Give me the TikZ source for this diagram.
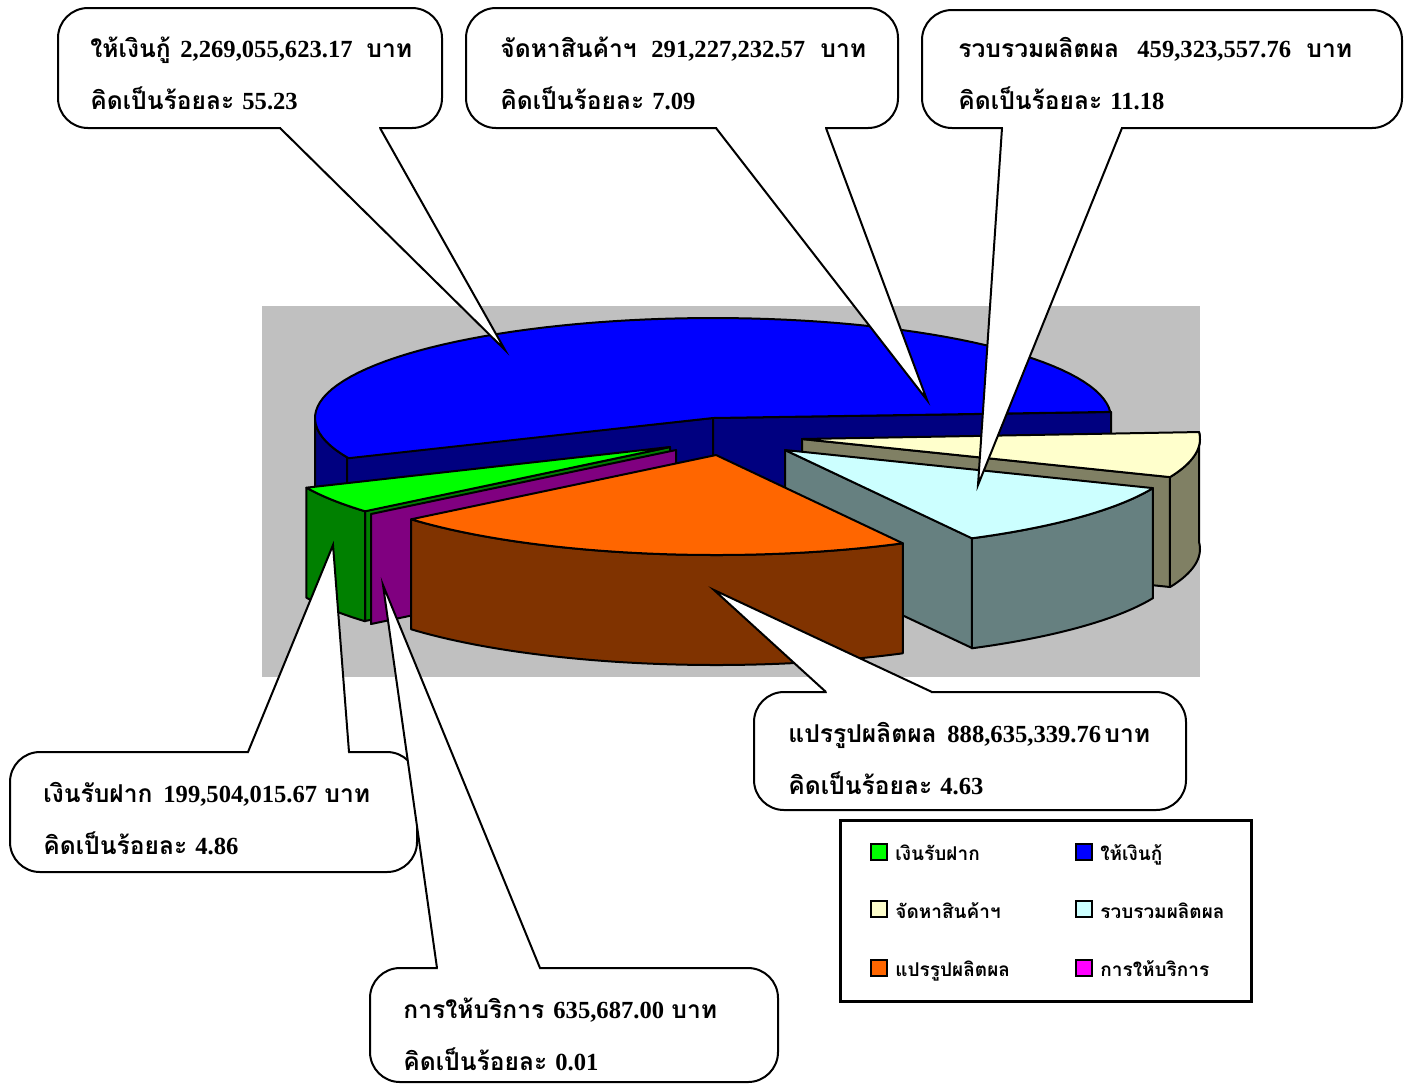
\documentclass[tikz,border=0pt]{standalone}
\usepackage{fontspec}
\setmainfont{Liberation Serif}
\newfontfamily\thai[Script=Thai]{Loma}
\definecolor{navyc}{HTML}{000080}
\definecolor{bluec}{HTML}{0000FF}
\definecolor{yellowc}{HTML}{FFFFCC}
\definecolor{olivec}{RGB}{128,128,100}
\definecolor{cyanc}{HTML}{CCFFFF}
\definecolor{tealc}{RGB}{102,128,128}
\definecolor{greenc}{HTML}{00FF00}
\definecolor{dgreenc}{HTML}{008000}
\definecolor{purplec}{HTML}{800080}
\definecolor{orangec}{HTML}{FF6600}
\definecolor{brownc}{HTML}{803300}
\definecolor{magentac}{HTML}{FF00FF}
\definecolor{plotgray}{HTML}{C0C0C0}
\begin{document}
\begin{tikzpicture}[x=0.5pt,y=-0.5pt,
  pe/.style={draw=black,line width=1pt,line join=round},
  cbox/.style={draw=black,fill=white,line width=1pt,rounded corners=15pt,inner sep=0pt},
  tailc/.style={draw=black,fill=white,line width=1pt,line join=miter},
  lbl/.style={font=\bfseries\fontsize{12.3}{14}\selectfont,inner sep=0pt,anchor=base west},
  leg/.style={font=\bfseries\fontsize{9.5}{11}\selectfont,inner sep=0pt,anchor=base west},
  sq/.style={draw=black,line width=1pt,minimum size=8pt,inner sep=0pt}]
\useasboundingbox (0,0) rectangle (1407,1084);
\fill[white] (0,0) rectangle (1407,1084);
% plot area
\fill[plotgray] (262,306) rectangle (1200,677);
% ---- blue slice (ให้เงินกู้)
\filldraw[pe,fill=navyc] (347,457) -- plot[domain=156.3:180,samples=15] ({713+398*cos(\x)},{418+100*sin(\x)}) -- plot[domain=180:156.3,samples=15] ({713+398*cos(\x)},{528+100*sin(\x)}) -- cycle;
\filldraw[pe,fill=navyc] (347,457) -- (713,418) -- (713,528) -- (347,567) -- cycle;
\filldraw[pe,fill=navyc] (713,418) -- (1111,412) -- (1111,522) -- (713,528) -- cycle;
\filldraw[pe,fill=bluec] (713,418) -- plot[domain=156.3:356.5,samples=80] ({713+398*cos(\x)},{418+100*sin(\x)}) -- cycle;
% ---- yellow slice (จัดหาสินค้าฯ)
\filldraw[pe,fill=olivec] (802,439) -- (1170,477) -- (1170,587) -- (802,549) -- cycle;
\filldraw[pe,fill=olivec] plot[domain=-4:22.4,samples=20] ({802+398*cos(\x)},{439+100*sin(\x)}) -- plot[domain=22.4:-4,samples=20] ({802+398*cos(\x)},{549+100*sin(\x)}) -- cycle;
\filldraw[pe,fill=yellowc] (802,439) -- plot[domain=-4:22.4,samples=20] ({802+398*cos(\x)},{439+100*sin(\x)}) -- cycle;
% ---- cyan slice (รวบรวมผลิตผล)
\filldraw[pe,fill=tealc] (785,450) -- (972,538) -- (972,648) -- (785,560) -- cycle;
\filldraw[pe,fill=tealc] plot[domain=22.4:62,samples=25] ({785+398*cos(\x)},{450+100*sin(\x)}) -- plot[domain=62:22.4,samples=25] ({785+398*cos(\x)},{560+100*sin(\x)}) -- cycle;
\filldraw[pe,fill=cyanc] (785,450) -- plot[domain=22.4:62,samples=25] ({785+398*cos(\x)},{450+100*sin(\x)}) -- cycle;
% ---- green slice (เงินรับฝาก)
\filldraw[pe,fill=dgreenc] (670,447) -- (365,511) -- (365,621) -- (670,557) -- cycle;
\filldraw[pe,fill=dgreenc] plot[domain=140:156,samples=12] ({670+398*cos(\x)},{447+100*sin(\x)}) -- plot[domain=156:140,samples=12] ({670+398*cos(\x)},{557+100*sin(\x)}) -- cycle;
\filldraw[pe,fill=greenc] (670,447) -- plot[domain=140:156,samples=12] ({670+398*cos(\x)},{447+100*sin(\x)}) -- cycle;
% ---- magenta slice side (การให้บริการ)
\filldraw[pe,fill=purplec] (676,450) -- (371,514) -- (371,624) -- (676,560) -- cycle;
% ---- orange slice (แปรรูปผลิตผล)
\filldraw[pe,fill=brownc] plot[domain=62:140,samples=50] ({716+398*cos(\x)},{455+100*sin(\x)}) -- plot[domain=140:62,samples=50] ({716+398*cos(\x)},{565+100*sin(\x)}) -- cycle;
\filldraw[pe,fill=orangec] (716,455) -- plot[domain=62:140,samples=50] ({716+398*cos(\x)},{455+100*sin(\x)}) -- cycle;

% ---- callout 1
\node[cbox,minimum width=192pt,minimum height=60pt] (b1) at (250,68) {};
\coordinate (p1) at (505,350); \coordinate (l1) at (280,128); \coordinate (r1) at (380,128);
\fill[white] (281,125) rectangle (379,131);
\path[tailc] (l1) -- (p1) -- (r1);
% ---- callout 2
\node[cbox,minimum width=216pt,minimum height=60pt] (b2) at (682,68) {};
\coordinate (p2) at (927,400); \coordinate (l2) at (716,128); \coordinate (r2) at (826,128);
\fill[white] (717,125) rectangle (825,131);
\path[tailc] (l2) -- (p2) -- (r2);
% ---- callout 3
\node[cbox,minimum width=240pt,minimum height=59pt] (b3) at (1162,69) {};
\coordinate (p3) at (978,485); \coordinate (l3) at (1002,128); \coordinate (r3) at (1122,128);
\fill[white] (1003,125) rectangle (1121,131);
\path[tailc] (l3) -- (p3) -- (r3);
% ---- callout 4
\node[cbox,minimum width=203.5pt,minimum height=60pt] (b4) at (213.5,812) {};
\coordinate (p4) at (333,545); \coordinate (l4) at (248,752); \coordinate (r4) at (349,752);
\fill[white] (249,749) rectangle (348,755);
\path[tailc] (l4) -- (p4) -- (r4);
% ---- callout 6
\node[cbox,minimum width=216pt,minimum height=59pt] (b6) at (970,751) {};
\coordinate (p6) at (714,590); \coordinate (l6) at (826,692); \coordinate (r6) at (932,692);
\fill[white] (827,689) rectangle (931,695);
\path[tailc] (l6) -- (p6) -- (r6);
% ---- callout 5
\node[cbox,minimum width=204pt,minimum height=57pt] (b5) at (574,1025) {};
\coordinate (p5) at (383,585); \coordinate (l5) at (437,968); \coordinate (r5) at (540,968);
\fill[white] (438,965) rectangle (539,971);
\path[tailc] (l5) -- (p5) -- (r5);

% ---- texts
\node[lbl] (t1a) at (90,57) {\thai ให้เงินกู้};
\node[lbl] (t1b) at (180,57) {2,269,055,623.17};
\node[lbl] (t1c) at (366,57) {\thai บาท};
\node[lbl] (t1d) at (90,109) {\thai คิดเป็นร้อยละ};
\node[lbl] (t1e) at (242,109) {55.23};

\node[lbl] (t2a) at (500,57) {\thai จัดหาสินค้าฯ};
\node[lbl] (t2b) at (651,57) {291,227,232.57};
\node[lbl] (t2c) at (820,57) {\thai บาท};
\node[lbl] (t2d) at (500,109) {\thai คิดเป็นร้อยละ};
\node[lbl] (t2e) at (652,109) {7.09};

\node[lbl] (t3a) at (958,57) {\thai รวบรวมผลิตผล};
\node[lbl] (t3b) at (1137,57) {459,323,557.76};
\node[lbl] (t3c) at (1306,57) {\thai บาท};
\node[lbl] (t3d) at (958,109) {\thai คิดเป็นร้อยละ};
\node[lbl] (t3e) at (1110,109) {11.18};

\node[lbl] (t4a) at (43,802) {\thai เงินรับฝาก};
\node[lbl] (t4b) at (163,802) {199,504,015.67};
\node[lbl] (t4c) at (324,802) {\thai บาท};
\node[lbl] (t4d) at (43,854) {\thai คิดเป็นร้อยละ};
\node[lbl] (t4e) at (195,854) {4.86};

\node[lbl] (t5a) at (403,1018) {\thai การให้บริการ};
\node[lbl] (t5b) at (553,1018) {635,687.00};
\node[lbl] (t5c) at (671,1018) {\thai บาท};
\node[lbl] (t5d) at (403,1070) {\thai คิดเป็นร้อยละ};
\node[lbl] (t5e) at (555,1070) {0.01};

\node[lbl] (t6a) at (788,742) {\thai แปรรูปผลิตผล};
\node[lbl] (t6b) at (947,742) {888,635,339.76};
\node[lbl] (t6c) at (1104,742) {\thai บาท};
\node[lbl] (t6d) at (788,794) {\thai คิดเป็นร้อยละ};
\node[lbl] (t6e) at (940,794) {4.63};

% ---- legend
\node[draw=black,line width=1.5pt,fill=white,minimum width=205.5pt,minimum height=90.5pt,inner sep=0pt] (lg) at (1045.5,910.5) {};
\node[sq,fill=greenc] (s1) at (878.5,851.5) {};
\node[leg] (e1) at (895,860) {\thai เงินรับฝาก};
\node[sq,fill=bluec] (s2) at (1084,851.5) {};
\node[leg] (e2) at (1100,860) {\thai ให้เงินกู้};
\node[sq,fill=yellowc] (s3) at (878.5,909) {};
\node[leg] (e3) at (895,918) {\thai จัดหาสินค้าฯ};
\node[sq,fill=cyanc] (s4) at (1084,909) {};
\node[leg] (e4) at (1100,918) {\thai รวบรวมผลิตผล};
\node[sq,fill=orangec] (s5) at (878.5,968) {};
\node[leg] (e5) at (895,976) {\thai แปรรูปผลิตผล};
\node[sq,fill=magentac] (s6) at (1084,968) {};
\node[leg] (e6) at (1100,976) {\thai การให้บริการ};
\end{tikzpicture}
\end{document}
